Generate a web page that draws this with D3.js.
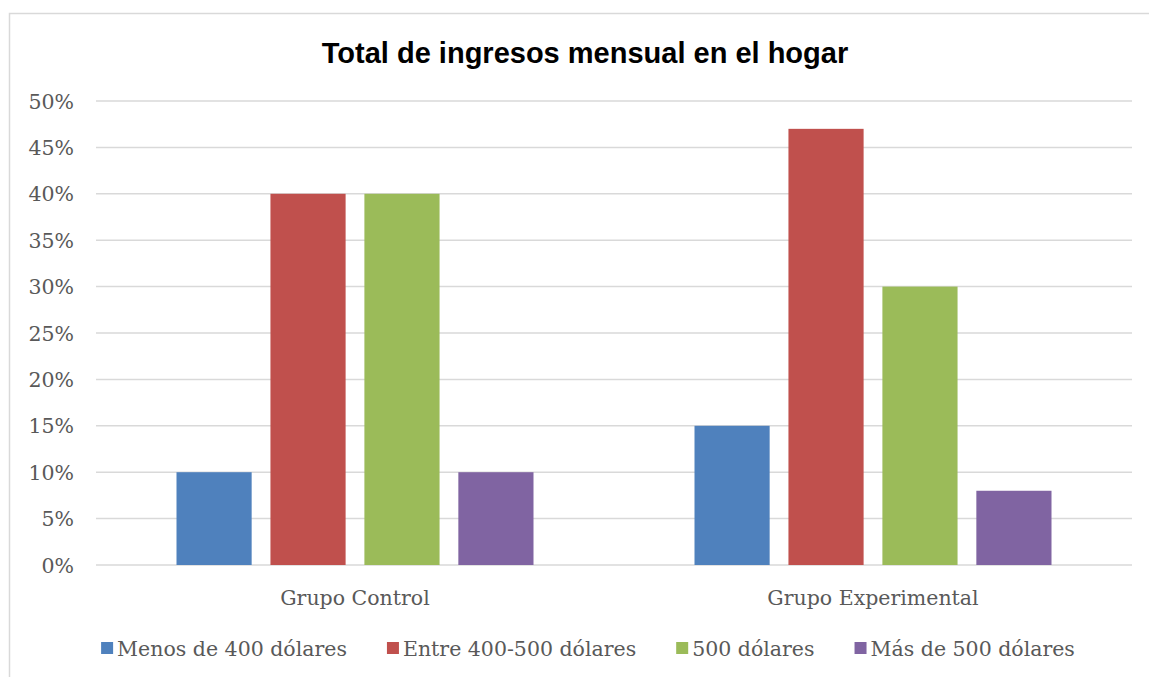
<!DOCTYPE html>
<html>
<head>
<meta charset="utf-8">
<script src="https://cdn.jsdelivr.net/npm/d3@7"></script>
<style>
  body { margin: 0; background: #fff; }
  text { fill: #595959; }
</style>
</head>
<body>
<div id="chart"></div>
<script>
var groups = ["Grupo Control", "Grupo Experimental"];
var seriesNames = ["Menos de 400 dólares", "Entre 400-500 dólares", "500 dólares", "Más de 500 dólares"];
var seriesColors = ["#4f81bd", "#c0504d", "#9bbb59", "#8064a2"];
var menos400 = [10, 15];
var entre400500 = [40, 47];
var d500 = [40, 30];
var mas500 = [10, 8];
var yTicks = [0, 5, 10, 15, 20, 25, 30, 35, 40, 45, 50];

function init() {
    var w = 1149, h = 677;
    var left = 96, right = 1132, top = 101, bottom = 565;
    var values = [menos400, entre400500, d500, mas500];
    var serif = "'DejaVu Serif', serif";

    var svg = d3.select("#chart").append("svg")
        .attr("width", w)
        .attr("height", h);

    // chart frame
    svg.append("path")
       .attr("d", "M9.5," + h + "V13.5H" + w)
       .attr("fill", "none")
       .attr("stroke", "#d9d9d9")
       .attr("stroke-width", 1.5);

    var x0 = d3.scaleBand().domain(groups).range([left, right]);
    var x1 = d3.scaleBand().domain(d3.range(seriesNames.length))
               .range([80.5, x0.bandwidth() - 80.5])
               .paddingInner(0.2);
    var y = d3.scaleLinear().domain([0, 50]).range([bottom, top]);

    // gridlines
    svg.selectAll("line.grid")
       .data(yTicks)
       .enter().append("line")
       .attr("class", "grid")
       .attr("x1", left).attr("x2", right)
       .attr("y1", function(d) { return y(d); })
       .attr("y2", function(d) { return y(d); })
       .attr("stroke", "#d9d9d9")
       .attr("stroke-width", 1.5);

    // y labels
    svg.selectAll("text.ylab")
       .data(yTicks)
       .enter().append("text")
       .attr("class", "ylab")
       .attr("x", 74)
       .attr("y", function(d) { return y(d) + 7.5; })
       .attr("text-anchor", "end")
       .style("font-family", serif)
       .style("font-size", "20.5px")
       .text(function(d) { return d + "%"; });

    // bars
    var g = svg.selectAll("g.group")
       .data(groups)
       .enter().append("g")
       .attr("transform", function(d) { return "translate(" + x0(d) + ",0)"; });

    g.selectAll("rect")
     .data(function(d, gi) {
         return values.map(function(s, si) { return { si: si, v: s[gi] }; });
     })
     .enter().append("rect")
     .attr("x", function(d) { return x1(d.si); })
     .attr("y", function(d) { return y(d.v); })
     .attr("width", x1.bandwidth())
     .attr("height", function(d) { return bottom - y(d.v); })
     .attr("fill", function(d) { return seriesColors[d.si]; });

    // x labels
    svg.selectAll("text.xlab")
       .data(groups)
       .enter().append("text")
       .attr("class", "xlab")
       .attr("x", function(d) { return x0(d) + x0.bandwidth() / 2; })
       .attr("y", 605)
       .attr("text-anchor", "middle")
       .style("font-family", serif)
       .style("font-size", "20.5px")
       .text(function(d) { return d; });

    // title
    svg.append("text")
       .attr("x", 585)
       .attr("y", 63)
       .attr("text-anchor", "middle")
       .style("font-family", "'Liberation Sans', Arial, sans-serif")
       .style("font-weight", "bold")
       .style("font-size", "29px")
       .style("fill", "#000")
       .text("Total de ingresos mensual en el hogar");

    // legend
    var legend = svg.append("g");
    var items = legend.selectAll("g")
       .data(seriesNames)
       .enter().append("g");
    items.append("rect")
       .attr("width", 12).attr("height", 12)
       .attr("y", -14)
       .attr("fill", function(d, i) { return seriesColors[i]; });
    items.append("text")
       .attr("x", 16)
       .style("font-family", serif)
       .style("font-size", "20.5px")
       .text(function(d) { return d; });

    var pos = 0;
    items.each(function() {
        var tw = d3.select(this).select("text").node().getComputedTextLength();
        d3.select(this).attr("transform", "translate(" + pos + ",0)");
        pos += 16 + tw + 40;
    });
    var total = pos - 40;
    legend.attr("transform", "translate(" + (588 - total / 2) + ",656)");
}

window.onload = init;
</script>
</body>
</html>
